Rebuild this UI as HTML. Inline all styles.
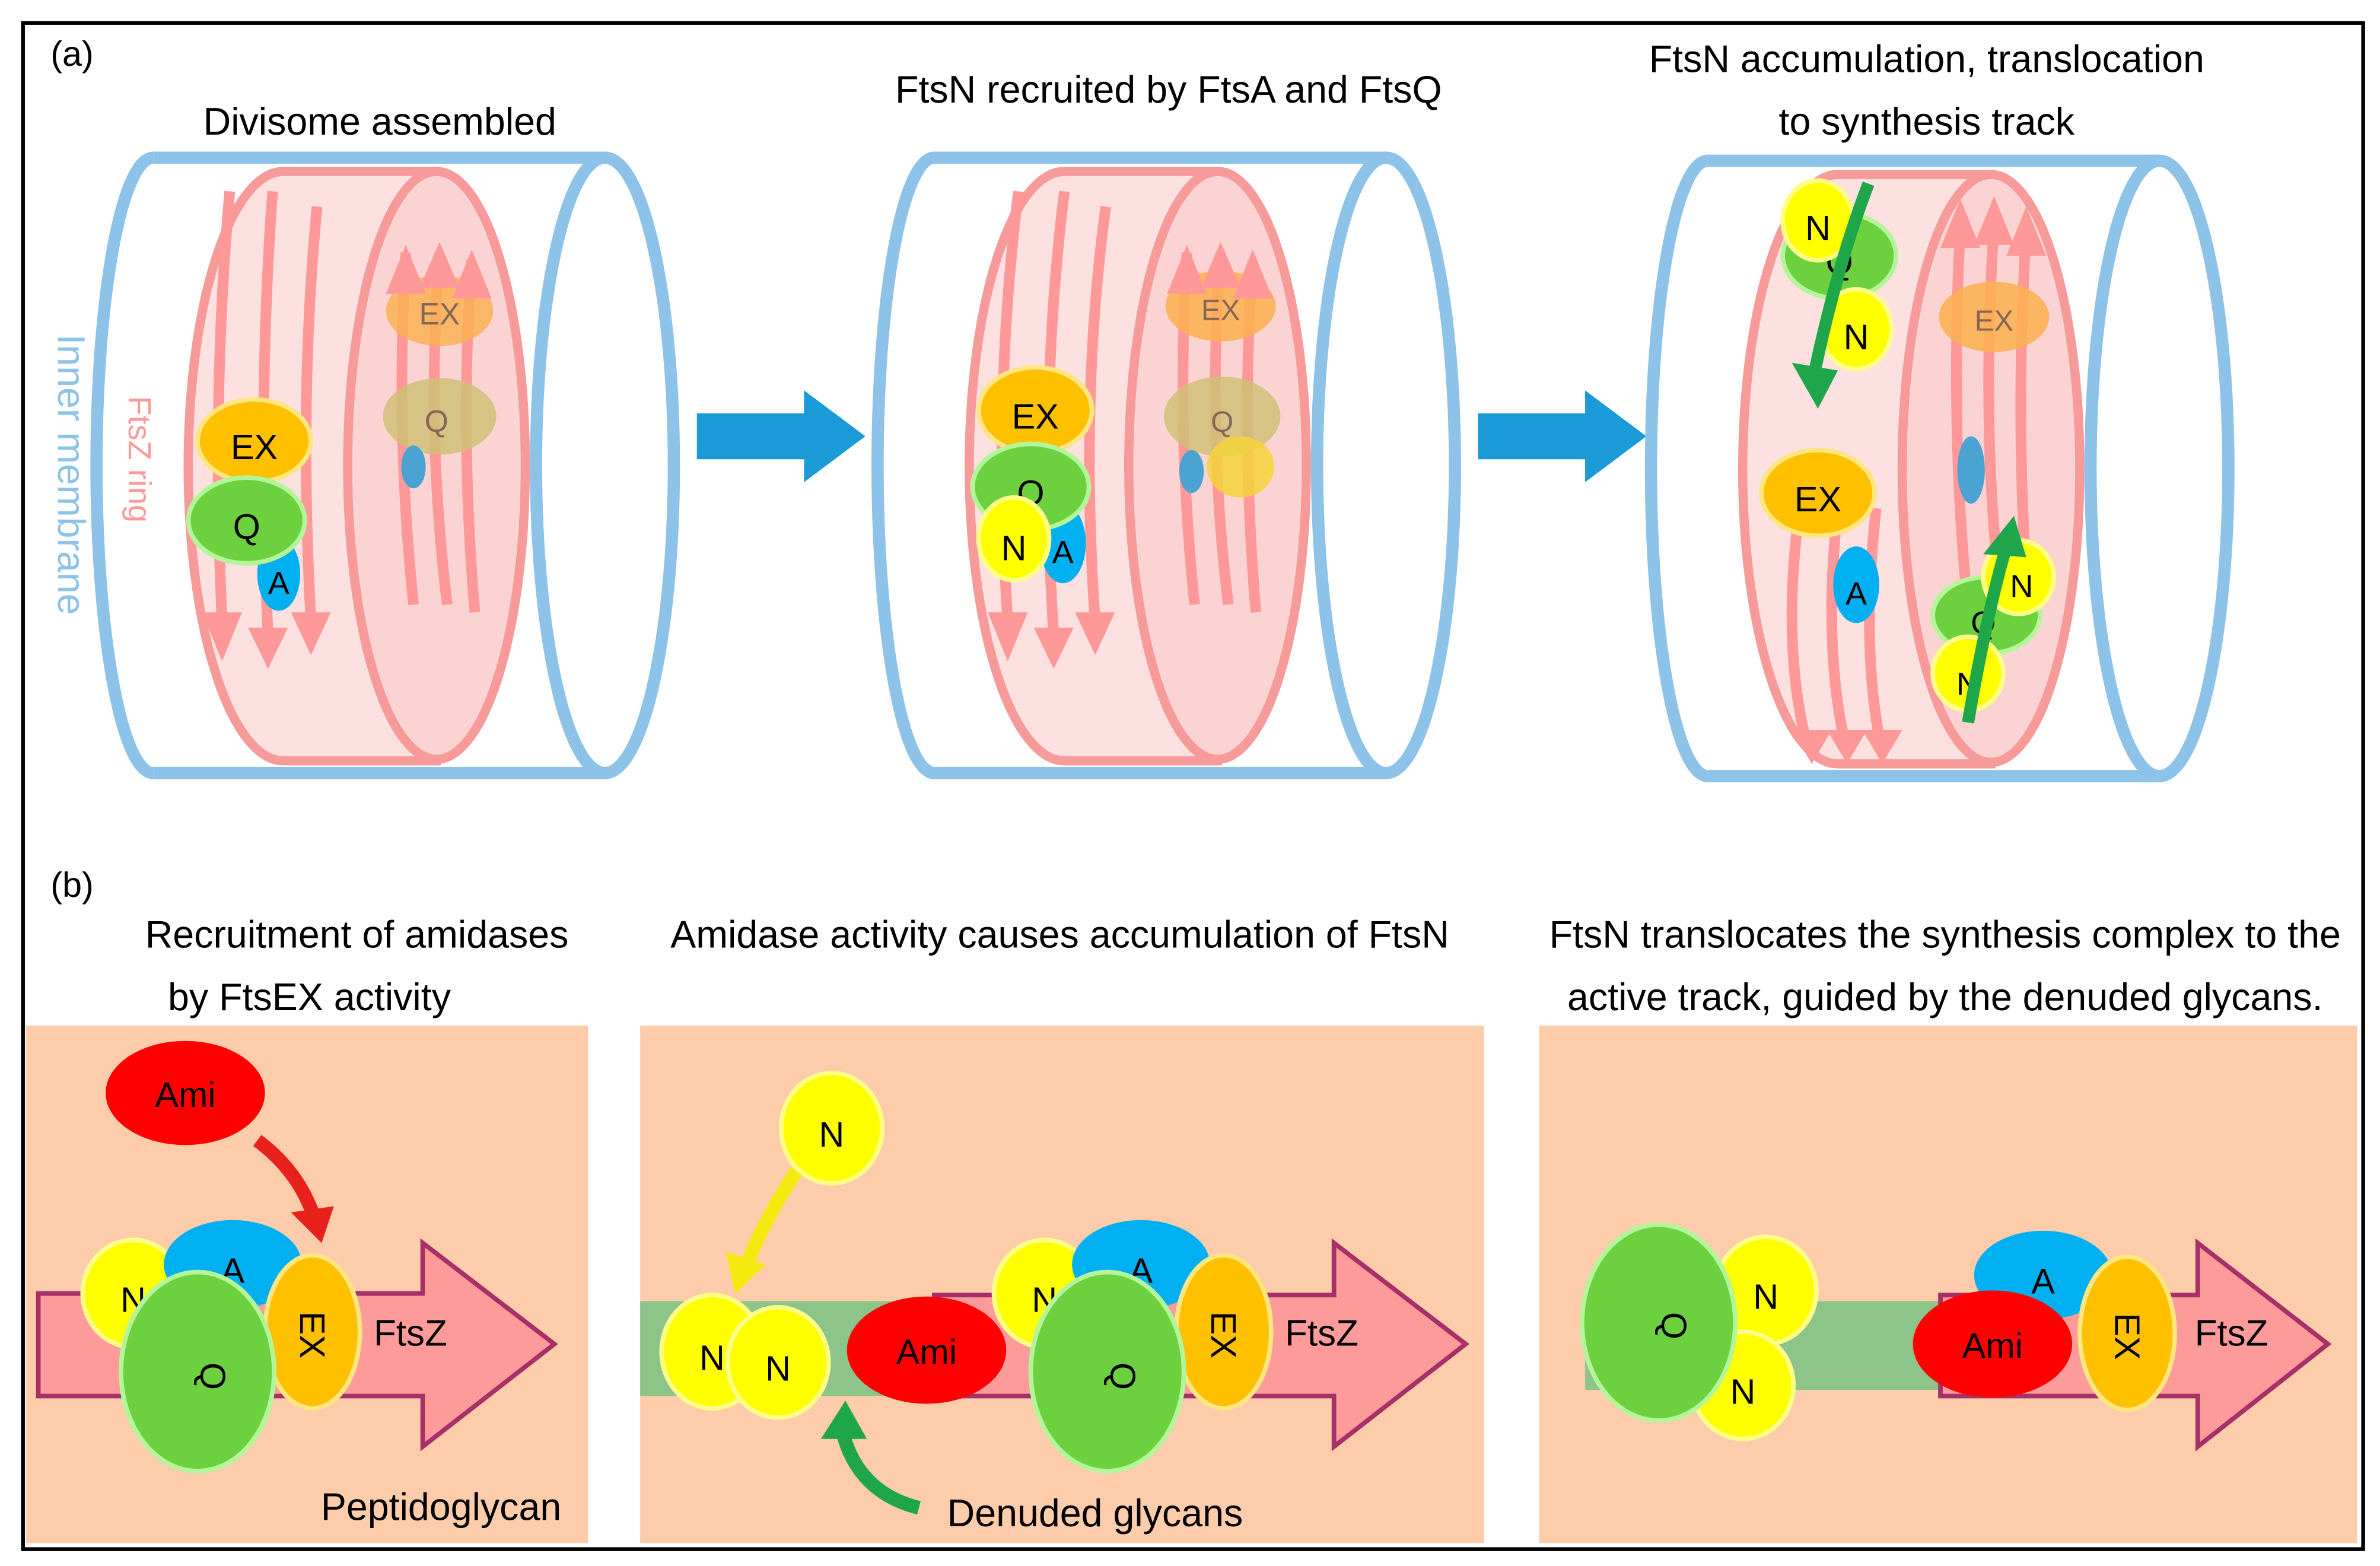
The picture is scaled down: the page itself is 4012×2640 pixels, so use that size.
<!DOCTYPE html>
<html><head><meta charset="utf-8"><style>
html,body{margin:0;padding:0;background:#fff}
svg{display:block}
text{font-family:"Liberation Sans","DejaVu Sans",sans-serif}
</style></head><body>
<svg width="4012" height="2640" viewBox="0 0 1554 1023" preserveAspectRatio="none" xmlns="http://www.w3.org/2000/svg">
<defs>
<g id="cyl">
  <path d="M100,103 A37,201 0 0 0 100,505" fill="none" stroke="#8dc3e8" stroke-width="8"/>
  <line x1="100" y1="103" x2="395" y2="103" stroke="#8dc3e8" stroke-width="8"/>
  <line x1="100" y1="505" x2="395" y2="505" stroke="#8dc3e8" stroke-width="8"/>
  <ellipse cx="395" cy="304" rx="45" ry="201" fill="#fff" stroke="#8dc3e8" stroke-width="8"/>
</g>
<g id="ring">
  <path d="M185,112 L285,112 L285,497 L185,497 A62,192 0 0 1 185,112 z" fill="#fde0e0" stroke="#f79a9a" stroke-width="6"/>
  <ellipse cx="285" cy="304" rx="58" ry="192" fill="#fbd3d3" stroke="#f79a9a" stroke-width="6"/>
</g>
</defs>
<rect x="15" y="15" width="1528" height="997" fill="#fff" stroke="#000" stroke-width="2.5"/>
<text x="33" y="43" font-size="23">(a)</text>
<text x="33" y="586" font-size="23">(b)</text>

<!-- a1 -->
<text x="248" y="88" font-size="25" text-anchor="middle">Divisome assembled</text>
<use href="#cyl"/><use href="#ring"/>
<g stroke="#f99" stroke-width="7" fill="none">
 <path d="M150,125 Q138,260 145,405"/><path d="M178,125 Q168,260 175,415"/><path d="M207,135 Q195,260 203,405"/>
 <path d="M270,395 Q258,280 265,165"/><path d="M292,395 Q278,280 287,165"/><path d="M310,400 Q300,280 308,170"/>
</g>
<ellipse cx="287" cy="203" rx="35" ry="23" fill="#fbb04d" opacity=".8"/>
<text x="287" y="212" font-size="20" text-anchor="middle" fill="#865">EX</text>
<ellipse cx="287" cy="272" rx="37" ry="25" fill="#cfc077" opacity=".85"/>
<text x="285" y="282" font-size="20" text-anchor="middle" fill="#865">Q</text>
<ellipse cx="270" cy="305" rx="8" ry="14" fill="#4aa3d0"/>
<g fill="#f99"><path d="M132,400 L158,400 L145,432z"/><path d="M162,410 L188,410 L175,437z"/><path d="M190,400 L216,400 L203,428z"/><path d="M252,192 L278,192 L265,160z"/><path d="M274,188 L300,188 L287,158z"/><path d="M295,195 L321,195 L308,163z"/></g>
<ellipse cx="166" cy="288" rx="37" ry="27" fill="#ffc000" stroke="#ffe680" stroke-width="3"/>
<text x="166" y="300" font-size="23" text-anchor="middle">EX</text>
<ellipse cx="182" cy="375" rx="14" ry="24" fill="#00b0f0"/>
<text x="182" y="388" font-size="21" text-anchor="middle">A</text>
<ellipse cx="161" cy="340" rx="38" ry="28" fill="#6dd13f" stroke="#b5f59a" stroke-width="3"/>
<text x="161" y="352" font-size="23" text-anchor="middle">Q</text>
<text transform="translate(38,310) rotate(90)" font-size="25" fill="#8dc3e8" text-anchor="middle">Inner membrane</text>
<text transform="translate(84,300) rotate(90)" font-size="21" fill="#f99" text-anchor="middle">FtsZ ring</text>

<!-- arrows -->
<path d="M455,270 L525,270 L525,255 L565,285 L525,315 L525,300 L455,300z" fill="#1a9ad6"/>
<path d="M965,270 L1035,270 L1035,255 L1075,285 L1035,315 L1035,300 L965,300z" fill="#1a9ad6"/>

<!-- a2 -->
<text x="763" y="67" font-size="25" text-anchor="middle">FtsN recruited by FtsA and FtsQ</text>
<g transform="translate(510,0)"><use href="#cyl"/><use href="#ring"/>
<g stroke="#f99" stroke-width="7" fill="none">
 <path d="M155,125 Q138,260 148,405"/><path d="M185,125 Q168,260 178,415"/><path d="M212,135 Q195,260 205,405"/>
 <path d="M270,395 Q258,280 265,165"/><path d="M292,395 Q278,280 287,165"/><path d="M310,400 Q300,280 308,170"/>
</g>
<ellipse cx="287" cy="200" rx="36" ry="23" fill="#fbb04d" opacity=".85"/>
<text x="287" y="209" font-size="19" text-anchor="middle" fill="#865">EX</text>
<ellipse cx="288" cy="272" rx="38" ry="26" fill="#cfc077" opacity=".85"/>
<text x="288" y="282" font-size="19" text-anchor="middle" fill="#865">Q</text>
<ellipse cx="300" cy="305" rx="22" ry="20" fill="#f5d23a" opacity=".85"/>
<ellipse cx="268" cy="308" rx="8" ry="14" fill="#4aa3d0"/>
<g fill="#f99"><path d="M135,400 L161,400 L148,432z"/><path d="M165,410 L191,410 L178,437z"/><path d="M192,400 L218,400 L205,428z"/><path d="M252,192 L278,192 L265,160z"/><path d="M274,188 L300,188 L287,158z"/><path d="M295,195 L321,195 L308,163z"/></g>
<ellipse cx="166" cy="268" rx="37" ry="28" fill="#ffc000" stroke="#ffe680" stroke-width="3"/>
<text x="166" y="280" font-size="23" text-anchor="middle">EX</text>
<ellipse cx="184" cy="355" rx="15" ry="26" fill="#00b0f0"/>
<text x="184" y="368" font-size="21" text-anchor="middle">A</text>
<ellipse cx="163" cy="318" rx="38" ry="28" fill="#6dd13f" stroke="#b5f59a" stroke-width="3"/>
<text x="163" y="330" font-size="23" text-anchor="middle">Q</text>
<ellipse cx="152" cy="352" rx="23" ry="27" fill="#ffff00" stroke="#ffff88" stroke-width="3"/>
<text x="152" y="366" font-size="23" text-anchor="middle">N</text>
</g>

<!-- a3 -->
<text x="1258" y="47" font-size="25" text-anchor="middle">FtsN accumulation, translocation</text>
<text x="1258" y="88" font-size="25" text-anchor="middle">to synthesis track</text>
<g transform="translate(1015,2)"><use href="#cyl"/><use href="#ring"/>
<g stroke="#f99" stroke-width="7" fill="none">
 <path d="M160,330 Q148,420 165,485"/><path d="M185,330 Q175,420 190,485"/><path d="M210,330 Q200,420 213,485"/>
 <path d="M270,395 Q258,280 265,145"/><path d="M292,395 Q278,280 287,145"/><path d="M310,400 Q300,280 308,150"/>
</g>
<ellipse cx="287" cy="205" rx="36" ry="23" fill="#fbb04d" opacity=".85"/>
<text x="287" y="214" font-size="19" text-anchor="middle" fill="#865">EX</text>
<ellipse cx="272" cy="305" rx="9" ry="22" fill="#4aa3d0"/>
<g fill="#f99"><path d="M155,475 L181,475 L168,497z"/><path d="M178,475 L204,475 L191,497z"/><path d="M201,475 L227,475 L214,497z"/><path d="M252,160 L278,160 L265,128z"/><path d="M274,158 L300,158 L287,126z"/><path d="M295,165 L321,165 L308,133z"/></g>
<ellipse cx="172" cy="320" rx="37" ry="28" fill="#ffc000" stroke="#ffe680" stroke-width="3"/>
<text x="172" y="332" font-size="23" text-anchor="middle">EX</text>
<ellipse cx="197" cy="380" rx="15" ry="25" fill="#00b0f0"/>
<text x="197" y="393" font-size="21" text-anchor="middle">A</text>
<ellipse cx="186" cy="165" rx="37" ry="28" fill="#6dd13f" stroke="#b5f59a" stroke-width="3"/>
<text x="186" y="177" font-size="23" text-anchor="middle">Q</text>
<ellipse cx="172" cy="142" rx="23" ry="26" fill="#ffff00" stroke="#ffff88" stroke-width="3"/>
<text x="172" y="155" font-size="23" text-anchor="middle">N</text>
<ellipse cx="197" cy="213" rx="23" ry="26" fill="#ffff00" stroke="#ffff88" stroke-width="3"/>
<text x="197" y="226" font-size="23" text-anchor="middle">N</text>
<path d="M205,118 Q185,170 170,240" stroke="#1fa64a" stroke-width="8" fill="none"/>
<path d="M155,235 L185,240 L172,265z" fill="#1fa64a"/>
<ellipse cx="282" cy="400" rx="35" ry="25" fill="#6dd13f" stroke="#b5f59a" stroke-width="3"/>
<ellipse cx="303" cy="375" rx="23" ry="24" fill="#ffff00" stroke="#ffff88" stroke-width="3"/>
<text x="305" y="388" font-size="21" text-anchor="middle">N</text>
<text x="280" y="412" font-size="21" text-anchor="middle">Q</text>
<ellipse cx="270" cy="438" rx="23" ry="24" fill="#ffff00" stroke="#ffff88" stroke-width="3"/>
<text x="270" y="452" font-size="21" text-anchor="middle">N</text>
<path d="M270,470 Q282,400 295,355" stroke="#1fa64a" stroke-width="8" fill="none"/>
<path d="M280,360 L308,362 L300,335z" fill="#1fa64a"/>
</g>

<!-- b -->
<text x="233" y="619" font-size="25" text-anchor="middle">Recruitment of amidases</text>
<text x="202" y="660" font-size="25" text-anchor="middle">by FtsEX activity</text>
<text x="692" y="619" font-size="25" text-anchor="middle">Amidase activity causes accumulation of FtsN</text>
<text x="1270" y="619" font-size="25" text-anchor="middle">FtsN translocates the synthesis complex to the</text>
<text x="1270" y="660" font-size="25" text-anchor="middle">active track, guided by the denuded glycans.</text>

<rect x="17" y="670" width="367" height="338" fill="#fdccaa"/>
<rect x="418" y="670" width="551" height="338" fill="#fdccaa"/>
<rect x="1005" y="670" width="534" height="338" fill="#fdccaa"/>

<!-- b1 -->
<path d="M25,845 L276,845 L276,812 L362,878 L276,945 L276,912 L25,912z" fill="#fd9b9b" stroke="#a63068" stroke-width="3"/>
<text x="268" y="879" font-size="24" text-anchor="middle">FtsZ</text>
<ellipse cx="121" cy="714" rx="52" ry="34" fill="#ff0000"/>
<text x="121" y="723" font-size="23" text-anchor="middle">Ami</text>
<path d="M168,745 Q195,765 205,795" stroke="#e8211c" stroke-width="9" fill="none"/>
<path d="M190,792 L218,788 L210,812z" fill="#e8211c"/>
<ellipse cx="87" cy="845" rx="33" ry="35" fill="#ffff00" stroke="#ffff88" stroke-width="3"/>
<text x="87" y="857" font-size="23" text-anchor="middle">N</text>
<ellipse cx="152" cy="826" rx="45" ry="29" fill="#00b0f0"/>
<text x="152" y="838" font-size="23" text-anchor="middle">A</text>
<ellipse cx="204" cy="870" rx="31" ry="50" fill="#ffc000" stroke="#ffe680" stroke-width="3"/>
<text transform="translate(196,872) rotate(90)" font-size="23" text-anchor="middle">EX</text>
<ellipse cx="129" cy="896" rx="50" ry="65" fill="#6dd13f" stroke="#b5f59a" stroke-width="3"/>
<text transform="translate(131,899) rotate(90)" font-size="23" text-anchor="middle">Q</text>
<text x="288" y="993" font-size="25" text-anchor="middle">Peptidoglycan</text>

<!-- b2 -->
<rect x="418" y="850" width="250" height="62" fill="#8dc48a"/>
<path d="M610,846 L871,846 L871,812 L957,878 L871,945 L871,912 L610,912z" fill="#fd9b9b" stroke="#a63068" stroke-width="3"/>
<text x="863" y="879" font-size="24" text-anchor="middle">FtsZ</text>
<ellipse cx="543" cy="737" rx="33" ry="36" fill="#ffff00" stroke="#ffff88" stroke-width="3"/>
<text x="543" y="749" font-size="23" text-anchor="middle">N</text>
<path d="M520,765 Q500,795 488,825" stroke="#f5ea10" stroke-width="9" fill="none"/>
<path d="M474,818 L500,826 L480,845z" fill="#f5ea10"/>
<ellipse cx="465" cy="883" rx="33" ry="37" fill="#ffff00" stroke="#ffff88" stroke-width="3"/>
<text x="465" y="895" font-size="23" text-anchor="middle">N</text>
<ellipse cx="508" cy="890" rx="33" ry="36" fill="#ffff00" stroke="#ffff88" stroke-width="3"/>
<text x="508" y="902" font-size="23" text-anchor="middle">N</text>
<ellipse cx="605" cy="882" rx="52" ry="35" fill="#ff0000"/>
<text x="605" y="891" font-size="23" text-anchor="middle">Ami</text>
<ellipse cx="682" cy="845" rx="33" ry="35" fill="#ffff00" stroke="#ffff88" stroke-width="3"/>
<text x="682" y="857" font-size="23" text-anchor="middle">N</text>
<ellipse cx="745" cy="826" rx="45" ry="29" fill="#00b0f0"/>
<text x="745" y="838" font-size="23" text-anchor="middle">A</text>
<ellipse cx="799" cy="870" rx="31" ry="50" fill="#ffc000" stroke="#ffe680" stroke-width="3"/>
<text transform="translate(791,872) rotate(90)" font-size="23" text-anchor="middle">EX</text>
<ellipse cx="723" cy="896" rx="50" ry="65" fill="#6dd13f" stroke="#b5f59a" stroke-width="3"/>
<text transform="translate(725,899) rotate(90)" font-size="23" text-anchor="middle">Q</text>
<path d="M600,985 Q560,975 550,935" stroke="#1fa64a" stroke-width="9" fill="none"/>
<path d="M536,940 L566,940 L552,915z" fill="#1fa64a"/>
<text x="715" y="997" font-size="25" text-anchor="middle">Denuded glycans</text>

<!-- b3 -->
<rect x="1035" y="850" width="245" height="58" fill="#8dc48a"/>
<path d="M1267,846 L1435,846 L1435,812 L1520,878 L1435,945 L1435,912 L1267,912z" fill="#fd9b9b" stroke="#a63068" stroke-width="3"/>
<text x="1457" y="879" font-size="24" text-anchor="middle">FtsZ</text>
<ellipse cx="1153" cy="843" rx="33" ry="35" fill="#ffff00" stroke="#ffff88" stroke-width="3"/>
<text x="1153" y="855" font-size="23" text-anchor="middle">N</text>
<ellipse cx="1138" cy="905" rx="33" ry="35" fill="#ffff00" stroke="#ffff88" stroke-width="3"/>
<text x="1138" y="917" font-size="23" text-anchor="middle">N</text>
<ellipse cx="1083" cy="864" rx="50" ry="64" fill="#6dd13f" stroke="#b5f59a" stroke-width="3"/>
<text transform="translate(1085,866) rotate(90)" font-size="23" text-anchor="middle">Q</text>
<ellipse cx="1334" cy="833" rx="45" ry="29" fill="#00b0f0"/>
<text x="1334" y="845" font-size="23" text-anchor="middle">A</text>
<ellipse cx="1301" cy="878" rx="52" ry="35" fill="#ff0000"/>
<text x="1301" y="887" font-size="23" text-anchor="middle">Ami</text>
<ellipse cx="1389" cy="871" rx="31" ry="50" fill="#ffc000" stroke="#ffe680" stroke-width="3"/>
<text transform="translate(1381,873) rotate(90)" font-size="23" text-anchor="middle">EX</text>
</svg>
</body></html>
